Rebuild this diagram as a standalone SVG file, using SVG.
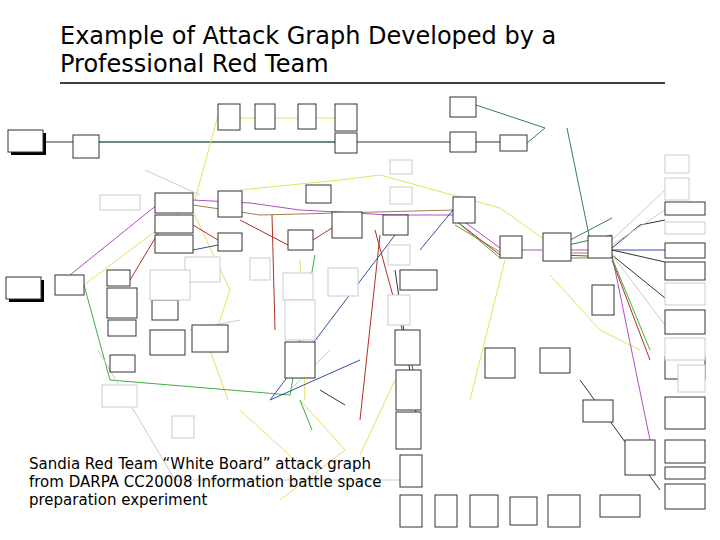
<svg xmlns="http://www.w3.org/2000/svg" width="720" height="540" viewBox="0 0 720 540">
<style>
.t{font-family:"DejaVu Sans","Liberation Sans",sans-serif;fill:#000}
.b{fill:#fff;stroke:#333;stroke-width:1}
.g{fill:#fff;stroke:#ccc;stroke-width:1}
.s{fill:#000}
.c{fill:none;stroke-width:1}
</style>
<rect width="720" height="540" fill="#fff"/>
<text class="t" x="60" y="44" font-size="24">Example of Attack Graph Developed by a</text>
<text class="t" x="60" y="72" font-size="24">Professional Red Team</text>
<line x1="60" y1="83" x2="665" y2="83" stroke="#000" stroke-width="1.5"/>
<g id="connectors">
<path class="c" stroke="#333" d="M43 142H73M99 142H335M357 142H450M476 142H500"/>
<path class="c" stroke="#3a7a6a" d="M99 142H335M527 143L545 128L476 105M567 128L590 240M555 248L612 218M555 248L612 235"/>
<path class="c" stroke="#e8e060" stroke-width="1.5" d="M240 118H255M275 118H298M316 118H335M195 200L218 115M240 190L340 180L380 175L500 208L545 240L555 250M84 285L190 205M190 205L230 290L210 350L228 400M305 400L300 260M300 400L345 450L280 500M300 465L240 410M360 455L395 380M505 260L470 400M550 275L600 330L640 350"/>
<path class="c" stroke="#b050c0" d="M70 275L163 200M193 200L250 203L300 210L390 215L453 215M455 215L500 248M500 250L542 250M570 250L588 250M612 255L650 440"/>
<path class="c" stroke="#a08050" d="M193 205L260 215L453 210M455 225L500 252M570 253L588 253"/>
<path class="c" stroke="#b03020" stroke-width="1.2" d="M193 225L218 240M240 220L288 245M313 240L332 228M455 220L500 255M560 255L588 256M612 260L650 360M130 280L163 225M272 215L275 330M380 235L360 420M375 230L420 395"/>
<path class="c" stroke="#40b040" d="M84 285L110 380L290 395M290 395L315 255M455 220L500 258M570 258L588 258M612 258L650 350M300 400L312 430"/>
<path class="c" stroke="#3050a0" d="M193 250L218 245M612 250H665M360 360L270 400M270 400L395 235M453 210L420 250"/>
<path class="c" stroke="#333" d="M612 248L640 225L665 220M612 250L665 262M612 255L665 298M395 270L420 440M320 390L345 405M580 380L660 490"/>
<path class="c" stroke="#ccc" d="M145 170L200 195M98 350L175 480M175 480H400M240 320L190 330M290 390L330 350M612 245L665 210M612 240L665 190M612 255L665 325"/>
</g>
<g id="nodes">
<g id="n1"><rect class="s" x="11" y="133" width="35" height="22"/><rect class="b" x="8" y="130" width="35" height="22"/></g>
<g id="n2"><rect class="s" x="9" y="280" width="35" height="22"/><rect class="b" x="6" y="277" width="35" height="22"/></g>
<rect class="b" x="73" y="135" width="26" height="23"/>
<rect class="b" x="218" y="104" width="22" height="26"/>
<rect class="b" x="255" y="104" width="20" height="25"/>
<rect class="b" x="298" y="104" width="18" height="25"/>
<rect class="b" x="335" y="104" width="22" height="27"/>
<rect class="b" x="335" y="133" width="22" height="20"/>
<rect class="b" x="450" y="97" width="26" height="20"/>
<rect class="b" x="450" y="132" width="26" height="20"/>
<rect class="b" x="500" y="135" width="27" height="16"/>
<rect class="b" x="155" y="193" width="38" height="20"/>
<rect class="b" x="155" y="215" width="38" height="18"/>
<rect class="b" x="155" y="235" width="38" height="18"/>
<rect class="b" x="218" y="191" width="24" height="26"/>
<rect class="b" x="218" y="233" width="24" height="18"/>
<rect class="b" x="288" y="230" width="25" height="20"/>
<rect class="b" x="332" y="212" width="30" height="26"/>
<rect class="b" x="383" y="215" width="25" height="20"/>
<rect class="b" x="453" y="197" width="22" height="26"/>
<rect class="b" x="500" y="236" width="22" height="22"/>
<rect class="b" x="543" y="233" width="28" height="28"/>
<rect class="b" x="588" y="236" width="24" height="22"/>
<rect class="b" x="306" y="185" width="25" height="18"/>
<rect class="b" x="55" y="275" width="29" height="20"/>
<rect class="b" x="107" y="270" width="23" height="16"/>
<rect class="b" x="107" y="288" width="30" height="30"/>
<rect class="b" x="108" y="320" width="28" height="16"/>
<rect class="b" x="110" y="355" width="25" height="17"/>
<rect class="b" x="152" y="300" width="26" height="20"/>
<rect class="b" x="150" y="330" width="35" height="25"/>
<rect class="b" x="192" y="325" width="36" height="27"/>
<rect class="b" x="285" y="342" width="30" height="36"/>
<rect class="b" x="400" y="270" width="37" height="20"/>
<rect class="b" x="396" y="370" width="25" height="40"/>
<rect class="b" x="396" y="412" width="25" height="37"/>
<rect class="b" x="400" y="455" width="22" height="32"/>
<rect class="b" x="400" y="495" width="22" height="32"/>
<rect class="b" x="435" y="495" width="22" height="32"/>
<rect class="b" x="470" y="495" width="28" height="32"/>
<rect class="b" x="510" y="497" width="27" height="28"/>
<rect class="b" x="548" y="495" width="32" height="32"/>
<rect class="b" x="485" y="348" width="30" height="30"/>
<rect class="b" x="540" y="348" width="30" height="25"/>
<rect class="b" x="583" y="400" width="30" height="22"/>
<rect class="b" x="625" y="440" width="30" height="35"/>
<rect class="b" x="592" y="285" width="22" height="30"/>
<rect class="b" x="665" y="202" width="40" height="13"/>
<rect class="b" x="665" y="243" width="40" height="15"/>
<rect class="b" x="665" y="262" width="40" height="18"/>
<rect class="b" x="665" y="310" width="40" height="24"/>
<rect class="b" x="665" y="357" width="40" height="22"/>
<rect class="b" x="665" y="397" width="40" height="32"/>
<rect class="b" x="665" y="440" width="40" height="23"/>
<rect class="b" x="665" y="467" width="40" height="12"/>
<rect class="b" x="665" y="484" width="40" height="25"/>
<rect class="b" x="600" y="495" width="40" height="22"/>
<rect class="b" x="395" y="330" width="25" height="35"/>
<rect class="g" x="100" y="195" width="40" height="15"/>
<rect class="g" x="185" y="257" width="35" height="25"/>
<rect class="g" x="250" y="258" width="20" height="22"/>
<rect class="g" x="283" y="273" width="30" height="27"/>
<rect class="g" x="150" y="270" width="40" height="30"/>
<rect class="g" x="328" y="268" width="30" height="28"/>
<rect class="g" x="285" y="300" width="30" height="40"/>
<rect class="g" x="390" y="160" width="22" height="14"/>
<rect class="g" x="390" y="187" width="22" height="17"/>
<rect class="g" x="388" y="245" width="22" height="20"/>
<rect class="g" x="388" y="295" width="22" height="30"/>
<rect class="g" x="665" y="155" width="24" height="18"/>
<rect class="g" x="665" y="178" width="24" height="22"/>
<rect class="g" x="665" y="222" width="40" height="12"/>
<rect class="g" x="665" y="283" width="40" height="22"/>
<rect class="g" x="665" y="338" width="40" height="22"/>
<rect class="g" x="678" y="365" width="27" height="27"/>
<rect class="g" x="102" y="385" width="35" height="22"/>
<rect class="g" x="172" y="416" width="22" height="22"/>
</g>
<text class="t" x="29" y="469" font-size="15">Sandia Red Team “White Board” attack graph</text>
<text class="t" x="29" y="487" font-size="15">from DARPA CC20008 Information battle space</text>
<text class="t" x="29" y="505" font-size="15">preparation experiment</text>
</svg>
